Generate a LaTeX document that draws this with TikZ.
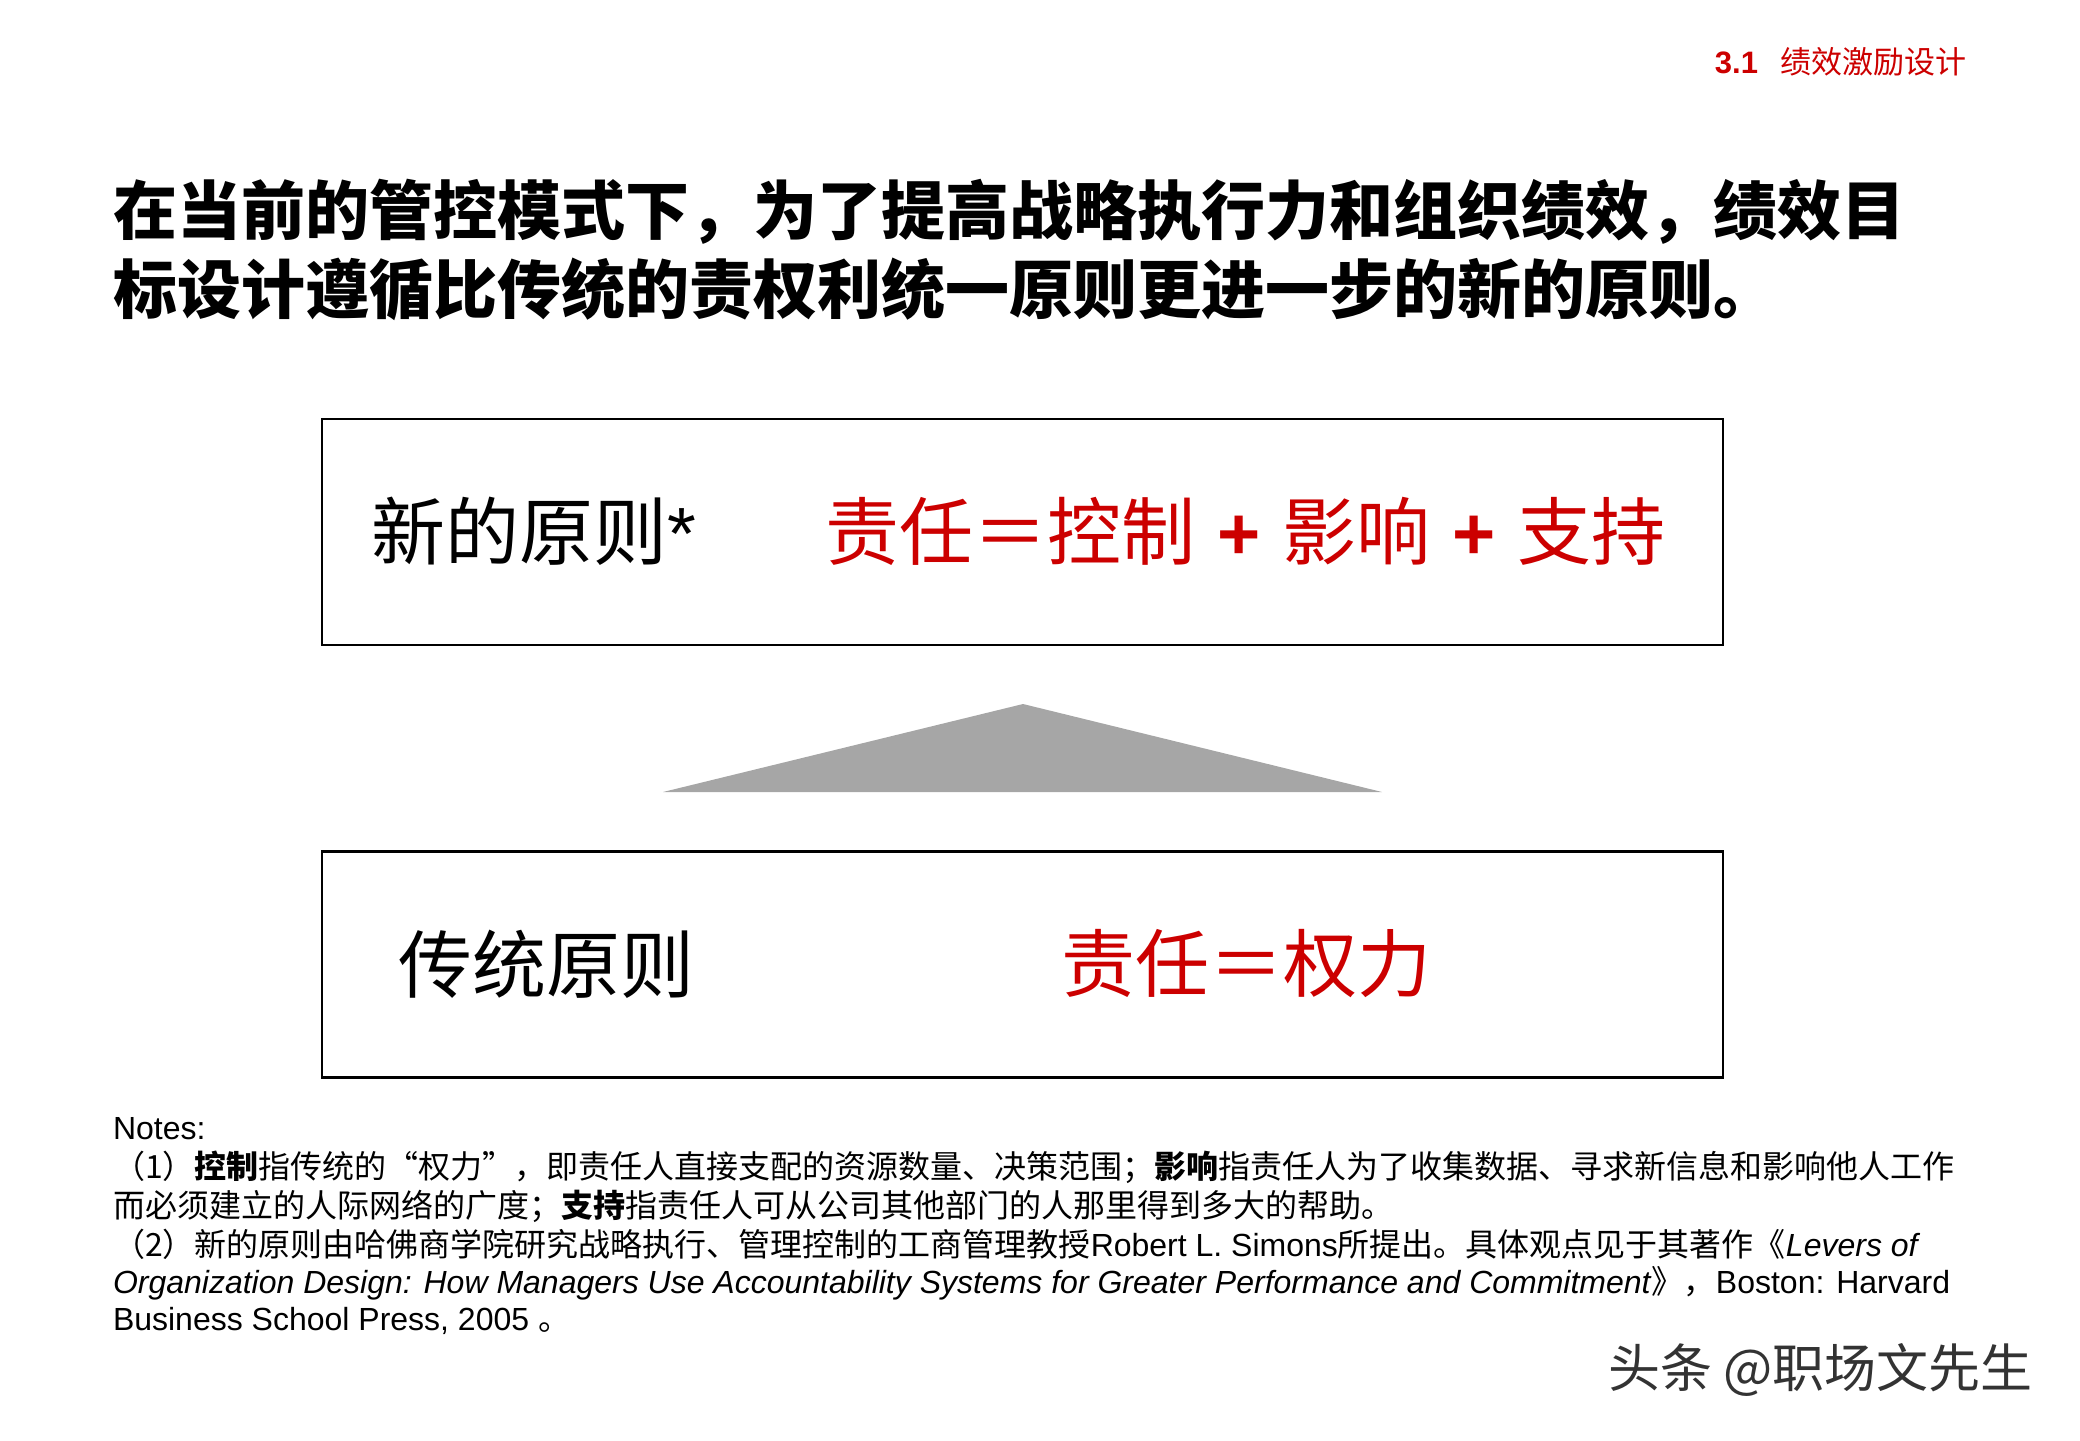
\documentclass[tikz,border=0pt]{standalone}
\usepackage{fontspec}
\setmainfont{Liberation Sans}
\newfontfamily\cjk{Noto Sans CJK SC}
\definecolor{keyred}{HTML}{CC0000}
\definecolor{tipgray}{HTML}{A6A6A6}
\newcommand{\plusmark}{\hspace{11pt}{\rmfamily\bfseries +}\hspace{11pt}}
\begin{document}
\begin{tikzpicture}[
    x=0.5pt, y=-0.5pt,
    every node/.style={inner sep=0pt, outer sep=0pt},
    frame/.style={draw=black, line width=1.3pt, minimum width=700.5pt, minimum height=113pt},
    title/.style={anchor=west, font=\cjk\bfseries\fontsize{32}{38}\selectfont},
    big/.style={anchor=west, font=\cjk\fontsize{37}{44}\selectfont},
    note/.style={anchor=west, font=\fontsize{16}{19}\selectfont}]
    \useasboundingbox (0,0) rectangle (2080,1440);

    % header
    \node[anchor=east, text=keyred, font=\fontsize{15.5}{18}\selectfont] (hdr) at (1966,62)
        {\textbf{3.1}\hspace{11pt}{\cjk 绩效激励设计}};

    % title
    \node[title] (ln1) at (113,212) {在当前的管控模式下，为了提高战略执行力和组织绩效，绩效目};
    \node[title] (ln2) at (113,289) {标设计遵循比传统的责权利统一原则更进一步的新的原则。};

    % the two principles
    \node[frame] (newbox) at (1022.5,532) {};
    \node[big] (newname) at (371,531) {新的原则{\rmfamily *}};
    \node[big, text=keyred] (newrule) at (825,531) {责任＝控制\plusmark 影响\plusmark 支持};

    \node[frame] (oldbox) at (1022.5,964.5) {};
    \node[big] (oldname) at (398,964) {传统原则};
    \node[big, text=keyred] (oldrule) at (1061,964) {责任＝权力};

    % triangle between them
    \coordinate (apex) at (1023,704);
    \coordinate (baseL) at (663,792);
    \coordinate (baseR) at (1382,792);
    \fill[tipgray] (baseL) -- (apex) -- (baseR) -- cycle;

    % notes
    \node[note] (nt0) at (113,1129) {Notes:};
    \node[note] (nt1) at (113,1167) {\cjk （1）\textbf{控制}指传统的“权力”，即责任人直接支配的资源数量、决策范围；\textbf{影响}指责任人为了收集数据、寻求新信息和影响他人工作};
    \node[note] (nt2) at (113,1206) {\cjk 而必须建立的人际网络的广度；\textbf{支持}指责任人可从公司其他部门的人那里得到多大的帮助。};
    \node[note] (nt3) at (113,1244) {{\cjk （2）新的原则由哈佛商学院研究战略执行、管理控制的工商管理教授}Robert L. Simons{\cjk 所提出。具体观点见于其著作《}\textit{Levers of}};
    \node[note] (nt4) at (113,1283) {\textit{Organization Design: How Managers Use Accountability Systems for Greater Performance and Commitment}{\cjk 》，}Boston: Harvard};
    \node[note] (nt5) at (113,1321) {Business School Press, 2005 {\cjk 。}};

    % watermark
    \node[anchor=west, text=black!80, font=\cjk\fontsize{26}{30}\selectfont] (mark) at (1608,1370) {头条 @职场文先生};
\end{tikzpicture}
\end{document}
